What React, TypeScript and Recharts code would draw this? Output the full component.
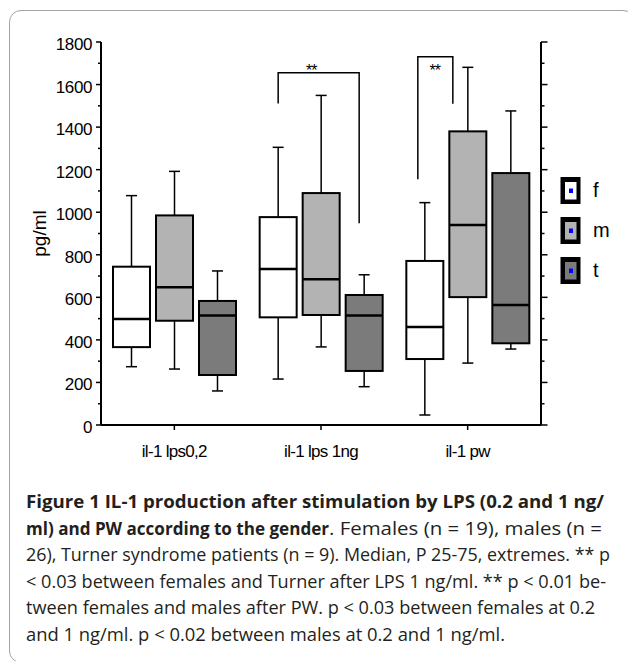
import React from "react";
import { ComposedChart, Bar, Line, XAxis, YAxis, Legend } from "recharts";

const CATEGORIES = ["il-1 lps0,2", "il-1 lps 1ng", "il-1 pw"];

// five-number summaries per category: [min, q1, median, q3, max] in pg/ml
const FEMALES = [
  [274, 366, 498, 744, 1078],
  [216, 506, 733, 977, 1305],
  [47, 310, 461, 771, 1045],
];
const MALES = [
  [263, 490, 647, 985, 1192],
  [367, 517, 685, 1090, 1549],
  [291, 601, 940, 1380, 1681],
];
const TURNER = [
  [160, 235, 515, 583, 724],
  [180, 254, 515, 611, 706],
  [357, 384, 564, 1184, 1476],
];

const SERIES = [
  { key: "f", fill: "#ffffff" },
  { key: "m", fill: "#b3b3b3" },
  { key: "t", fill: "#7b7b7b" },
];

const Y_TICKS = [0, 100, 200, 300, 400, 500, 600, 700, 800, 900, 1000, 1100, 1200, 1300, 1400, 1500, 1600, 1700, 1800];

// significance brackets (values in pg/ml)
const BRACKETS = [
  { category: "il-1 lps 1ng", top: 1655, leftEnd: 1511, rightEnd: 948, label: "**" },
  { category: "il-1 pw", top: 1731, leftEnd: 1155, rightEnd: 1510, label: "**" },
];
// leg / label offsets from the f box centre
const BRACKET_OFFSETS = [
  { left: 0, right: 81, label: 33 },
  { left: -7, right: 28, label: 10 },
];
const BRACKET_LABEL_VALUE = 1640;

const CAPTION = [
  { parts: [{ text: "Figure 1 IL-1 production after stimulation by LPS (0.2 and 1 ng/", bold: true, from: 26, to: 604 }], y: 508 },
  {
    parts: [
      { text: "ml) and PW according to the gender", bold: true, from: 26, to: 329 },
      { text: ". Females (n = 19), males (n =", bold: false, from: 329, to: 602 },
    ],
    y: 534.5,
  },
  { parts: [{ text: "26), Turner syndrome patients (n = 9). Median, P 25-75, extremes. ** p", bold: false, from: 26, to: 610 }], y: 561 },
  { parts: [{ text: "< 0.03 between females and Turner after LPS 1 ng/ml. ** p < 0.01 be-", bold: false, from: 26, to: 606 }], y: 587.5 },
  { parts: [{ text: "tween females and males after PW. p < 0.03 between females at 0.2", bold: false, from: 26, to: 595 }], y: 614 },
  { parts: [{ text: "and 1 ng/ml. p < 0.02 between males at 0.2 and 1 ng/ml.", bold: false, from: 26, to: 505 }], y: 640.5 },
];

const data = CATEGORIES.map((category, i) => ({
  category,
  f: FEMALES[i],
  m: MALES[i],
  t: TURNER[i],
}));

const AXIS_FONT = "'Liberation Sans', Arial, sans-serif";

const boxShape = (key: string, fill: string) => (props: any) => {
  const { x, y, width, height, payload } = props;
  const [min, q1, med, q3, max] = payload[key];
  const k = height / (max - min);
  const py = (v: number) => y + (max - v) * k;
  const cx = x + width / 2;
  const cap = 5.5;

  let bracket = null;
  if (key === "f") {
    const bi = BRACKETS.findIndex((b) => b.category === payload.category);
    if (bi >= 0) {
      const b = BRACKETS[bi];
      const o = BRACKET_OFFSETS[bi];
      const lx = cx + o.left;
      const rx = cx + o.right;
      bracket = (
        <g>
          <path
            d={`M${lx},${py(b.leftEnd)}V${py(b.top)}H${rx}V${py(b.rightEnd)}`}
            fill="none"
            stroke="#000"
            strokeWidth={1.5}
          />
          <text
            x={cx + o.label}
            y={py(BRACKET_LABEL_VALUE)}
            textAnchor="middle"
            fontFamily={AXIS_FONT}
            fontSize={16}
            letterSpacing={-1}
            fill="#000"
          >
            {b.label}
          </text>
        </g>
      );
    }
  }

  return (
    <g>
      <line x1={cx} x2={cx} y1={py(max)} y2={py(q3)} stroke="#000" strokeWidth={1.5} />
      <line x1={cx} x2={cx} y1={py(q1)} y2={py(min)} stroke="#000" strokeWidth={1.5} />
      <line x1={cx - cap} x2={cx + cap} y1={py(max)} y2={py(max)} stroke="#000" strokeWidth={1.5} />
      <line x1={cx - cap} x2={cx + cap} y1={py(min)} y2={py(min)} stroke="#000" strokeWidth={1.5} />
      <rect x={x} y={py(q3)} width={width} height={py(q1) - py(q3)} fill={fill} stroke="#000" strokeWidth={2} />
      <line x1={x} x2={x + width} y1={py(med)} y2={py(med)} stroke="#000" strokeWidth={2.5} />
      {bracket}
    </g>
  );
};

const LeftTick = (props: any) => {
  const { x, y, payload } = props;
  const major = payload.value % 200 === 0;
  return (
    <g>
      <line x1={x - (major ? 5 : 3)} x2={x} y1={y} y2={y} stroke="#000" strokeWidth={1.5} />
      {major && (
        <text x={x - 9} y={y + 8} textAnchor="end" fontFamily={AXIS_FONT} fontSize={17} letterSpacing={-0.4} fill="#000">
          {payload.value}
        </text>
      )}
    </g>
  );
};

const RightTick = (props: any) => {
  const { x, y, payload } = props;
  const major = payload.value % 200 === 0;
  return (
    <g>
      <line x1={x} x2={x + (major ? 6.5 : 3.5)} y1={y} y2={y} stroke="#000" strokeWidth={1.5} />
    </g>
  );
};

const BottomTick = (props: any) => {
  const { x, y, payload } = props;
  return (
    <g>
      <line x1={x} x2={x} y1={y} y2={y + 5} stroke="#000" strokeWidth={1.5} />
      <text x={x} y={y + 32} textAnchor="middle" fontFamily={AXIS_FONT} fontSize={17} letterSpacing={-0.7} fill="#000">
        {payload.value}
      </text>
    </g>
  );
};

const TopTick = (props: any) => {
  const { x, y } = props;
  return (
    <g>
      <line x1={x} x2={x} y1={y} y2={y - 5} stroke="#000" strokeWidth={1.5} />
    </g>
  );
};

const YLabel = (props: any) => {
  const vb = props.viewBox || { x: 1, y: 42, width: 100, height: 383 };
  const cx = vb.x + 45;
  const cy = vb.y + vb.height / 2;
  return (
    <text
      x={cx}
      y={cy}
      transform={`rotate(-90 ${cx} ${cy})`}
      textAnchor="middle"
      fontFamily={AXIS_FONT}
      fontSize={19}
      fill="#000"
    >
      pg/ml
    </text>
  );
};

const renderLegend = (props: any) => {
  const items = (props.payload ?? []).filter((it: any) => SERIES.some((s) => s.key === it.value));
  return (
    <svg width={60} height={110} style={{ display: "block" }}>
      {items.map((it: any, i: number) => {
        const s = SERIES.find((s) => s.key === it.value);
        const fill = s ? s.fill : it.color;
        const top = i * 40;
        return (
          <g key={it.value}>
            <rect x={0.5} y={top} width={20} height={27} fill="#000" />
            <rect x={5} y={top + 5} width={11.5} height={17.5} fill={fill} />
            <rect x={9} y={top + 11.5} width={4} height={4.5} fill="#0000ff" />
            <text x={33} y={top + 20} fontFamily={AXIS_FONT} fontSize={20} fill="#000">
              {it.value}
            </text>
          </g>
        );
      })}
    </svg>
  );
};

export default function App() {
  return (
    <div style={{ position: "absolute", left: 0, top: 0, width: 628, height: 661, overflow: "hidden", background: "#fff" }}>
      <div
        style={{
          position: "absolute",
          left: 9,
          top: 10,
          width: 626,
          height: 653,
          border: "1.5px solid #a3a3a3",
          borderRadius: 12,
          boxSizing: "border-box",
        }}
      />
      <div style={{ position: "absolute", left: 0, top: 0 }}>
        <ComposedChart
          width={628}
          height={480}
          data={data}
          margin={{ top: 42, right: 77, bottom: 25, left: 1 }}
          barSize={37}
          barGap={6}
        >
          <XAxis
            dataKey="category"
            xAxisId="bottom"
            height={30}
            interval={0}
            tickSize={0}
            tickMargin={0}
            tickLine={false}
            axisLine={{ stroke: "#000", strokeWidth: 2 }}
            tick={<BottomTick />}
          />
          <XAxis
            dataKey="category"
            xAxisId="top"
            orientation="top"
            height={0}
            interval={0}
            tickSize={0}
            tickMargin={0}
            tickLine={false}
            axisLine={{ stroke: "#000", strokeWidth: 2 }}
            tick={<TopTick />}
          />
          <YAxis
            yAxisId="left"
            width={100}
            domain={[0, 1800]}
            allowDataOverflow
            ticks={Y_TICKS}
            interval={0}
            tickSize={0}
            tickMargin={0}
            tickLine={false}
            axisLine={{ stroke: "#000", strokeWidth: 2 }}
            tick={<LeftTick />}
            label={<YLabel />}
          />
          <YAxis
            yAxisId="right"
            orientation="right"
            width={10}
            domain={[0, 1800]}
            allowDataOverflow
            ticks={Y_TICKS}
            interval={0}
            tickSize={0}
            tickMargin={0}
            tickLine={false}
            axisLine={{ stroke: "#000", strokeWidth: 2 }}
            tick={<RightTick />}
          />
          <Legend
            layout="vertical"
            align="center"
            verticalAlign="middle"
            content={renderLegend}
            wrapperStyle={{ left: 560, top: 177, width: 60 }}
          />
          {SERIES.map((s) => (
            <Bar
              key={s.key}
              name={s.key}
              xAxisId="bottom"
              yAxisId="left"
              dataKey={(row: any) => [row[s.key][0], row[s.key][4]]}
              fill={s.fill}
              shape={boxShape(s.key, s.fill)}
              isAnimationActive={false}
            />
          ))}
          {/* invisible series so the top and right frame axes get their ticks */}
          <Line
            xAxisId="top"
            yAxisId="right"
            dataKey={(row: any) => row.m[2]}
            stroke="none"
            dot={false}
            activeDot={false}
            legendType="none"
            isAnimationActive={false}
          />
        </ComposedChart>
      </div>
      <svg width={628} height={661} style={{ position: "absolute", left: 0, top: 0, pointerEvents: "none" }}>
        {CAPTION.map((line, li) =>
          line.parts.map((p, pi) => (
            <text
              key={`${li}-${pi}`}
              x={p.from}
              y={line.y}
              textLength={p.to - p.from}
              lengthAdjust="spacingAndGlyphs"
              fontFamily="'Open Sans', 'Noto Sans', sans-serif"
              fontWeight={p.bold ? 700 : 400}
              fontSize={17.5}
              fill="#231f20"
              style={{ whiteSpace: "pre" }}
            >
              {p.text}
            </text>
          ))
        )}
      </svg>
    </div>
  );
}
